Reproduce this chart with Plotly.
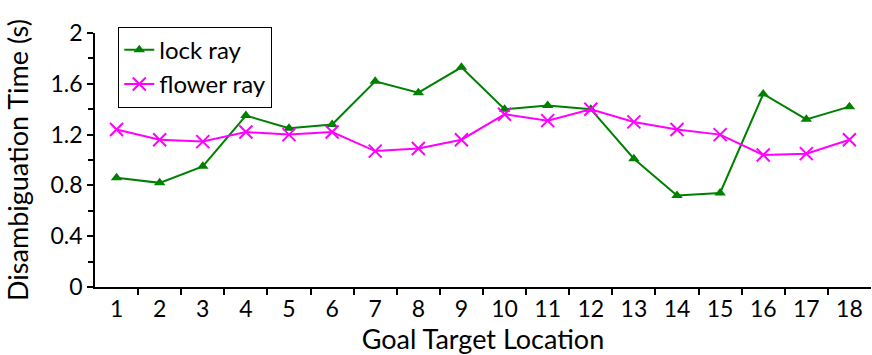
import plotly.graph_objects as go

locations = list(range(1, 19))
lock_ray = [0.86, 0.82, 0.95, 1.35, 1.25, 1.28, 1.62, 1.53, 1.73, 1.40, 1.43, 1.40, 1.01, 0.72, 0.74, 1.52, 1.32, 1.42]
flower_ray = [1.24, 1.16, 1.145, 1.22, 1.20, 1.22, 1.07, 1.09, 1.16, 1.36, 1.31, 1.40, 1.30, 1.24, 1.20, 1.04, 1.05, 1.16]
y_ticks = [0, 0.4, 0.8, 1.2, 1.6, 2]
y_labels = ["0", "0.4", "0.8", "1.2", "1.6", "2"]

FONT = "Lato"
TICK_SIZE = 23
TITLE_SIZE = 27

fig = go.Figure()
fig.add_trace(go.Scatter(
    x=locations, y=lock_ray, name="lock ray", mode="lines+markers",
    line=dict(color="#008000", width=2),
    marker=dict(symbol="triangle-up", size=10, color="#008000"),
))
fig.add_trace(go.Scatter(
    x=locations, y=flower_ray, name="flower ray", mode="lines+markers",
    line=dict(color="#ff00ff", width=2),
    marker=dict(symbol="x-thin-open", size=13, line=dict(color="#ff00ff", width=2)),
))

fig.update_layout(
    width=872, height=355,
    margin=dict(l=95, r=1, t=33, b=68),
    paper_bgcolor="white", plot_bgcolor="white",
    font=dict(family=FONT, size=TICK_SIZE, color="black"),
    showlegend=True,
    legend=dict(
        x=0.03, y=1.025, xanchor="left", yanchor="top",
        bordercolor="black", borderwidth=1, bgcolor="white",
        font=dict(family=FONT, size=24, color="black"),
        tracegroupgap=0, itemwidth=30,
    ),
    xaxis=dict(
        range=[0.5, 18.5], tickmode="array", tickvals=locations,
        ticktext=[str(v) for v in locations], ticks="",
        showline=True, linecolor="black", linewidth=2, showgrid=False, zeroline=False,
        minor=dict(ticks="outside", tickvals=[v + 0.5 for v in locations[:-1]],
                   ticklen=6, tickwidth=1.5, tickcolor="black", showgrid=False),
        title=dict(text="Goal Target Location", font=dict(family=FONT, size=TITLE_SIZE), standoff=4),
        tickfont=dict(family=FONT, size=TICK_SIZE),
    ),
    yaxis=dict(
        range=[0, 2], tickmode="array", tickvals=y_ticks, ticktext=y_labels,
        ticks="outside", ticklen=6, tickwidth=1.5, tickcolor="black",
        showline=True, linecolor="black", linewidth=1.5, showgrid=False, zeroline=False,
        minor=dict(ticks="outside", tickvals=[0.2, 0.6, 1.0, 1.4, 1.8],
                   ticklen=5, tickwidth=1.5, tickcolor="black", showgrid=False),
        title=dict(text="Disambiguation Time (s)", font=dict(family=FONT, size=TITLE_SIZE), standoff=14),
        tickfont=dict(family=FONT, size=TICK_SIZE),
    ),
)

fig.write_html("out.html", config={"displayModeBar": False},
               post_script="document.body.style.margin='0';")
